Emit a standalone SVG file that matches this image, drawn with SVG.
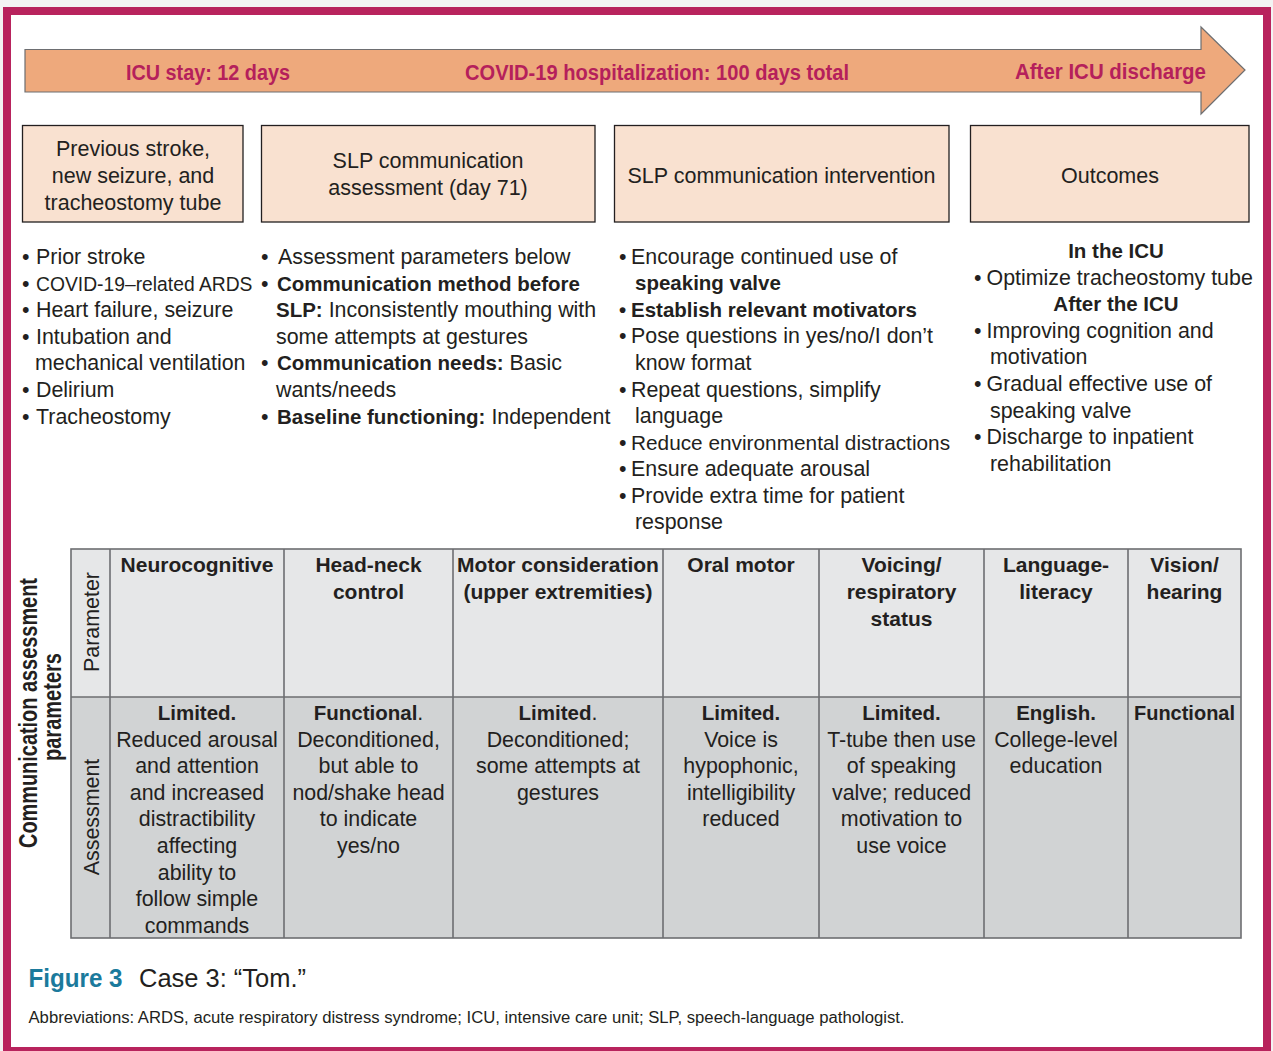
<svg xmlns="http://www.w3.org/2000/svg" width="1273" height="1051" viewBox="0 0 1273 1051">
<style>
.t{font-family:"Liberation Sans",Arial,sans-serif;fill:#231f20;}
.r{font-size:21.4px;}
.b{font-size:20.5px;font-weight:bold;}
.m{text-anchor:middle;}
.hd{font-size:21px;font-weight:bold;text-anchor:middle;}
.lab{font-family:"Liberation Sans",Arial,sans-serif;font-size:22px;font-weight:bold;fill:#b5205b;}
.box{fill:#f9e1d0;stroke:#231f20;stroke-width:1.3;}
.bx{font-size:21.5px;text-anchor:middle;}
.grid{stroke:#6d6e71;stroke-width:1.6;fill:none;}
</style>
<rect x="0" y="0" width="1273" height="1051" fill="#f3f3f3"/>
<g id="frame">
<rect x="7" y="11" width="1260" height="1040" fill="#ffffff" stroke="#b8235d" stroke-width="8"/>
</g>
<g id="timeline">
<polygon points="25,49.5 1201,49.5 1201,27 1245,70 1201,114 1201,92 25,92" fill="#eea97c" stroke="#6d6e71" stroke-width="1.2"/>
<text class="lab" x="126" y="80" textLength="164" lengthAdjust="spacingAndGlyphs">ICU stay: 12 days</text>
<text class="lab" x="465" y="80" textLength="384" lengthAdjust="spacingAndGlyphs">COVID-19 hospitalization: 100 days total</text>
<text class="lab" x="1015" y="79" textLength="191" lengthAdjust="spacingAndGlyphs">After ICU discharge</text>
</g>
<g id="node-history">
<rect class="box" x="22.5" y="125.5" width="220.5" height="96.5"/>
<text class="t bx" x="133" y="156">Previous stroke,</text>
<text class="t bx" x="133" y="183">new seizure, and</text>
<text class="t bx" x="133" y="210">tracheostomy tube</text>
</g>
<g id="node-assessment">
<rect class="box" x="261.5" y="125.5" width="333.5" height="96.5"/>
<text class="t bx" x="428" y="168">SLP communication</text>
<text class="t bx" x="428" y="195">assessment (day 71)</text>
</g>
<g id="node-intervention">
<rect class="box" x="614.5" y="125.5" width="334.5" height="96.5"/>
<text class="t bx" x="781.5" y="183">SLP communication intervention</text>
</g>
<g id="node-outcomes">
<rect class="box" x="970.5" y="125.5" width="278.5" height="96.5"/>
<text class="t bx" x="1110" y="183">Outcomes</text>
</g>
<g id="list-history" class="t r">
<text y="264"><tspan x="22">•</tspan><tspan x="36">Prior stroke</tspan></text>
<text y="290.6"><tspan x="22">•</tspan><tspan x="36" style="font-size:19.3px">COVID-19–related ARDS</tspan></text>
<text y="317.2"><tspan x="22">•</tspan><tspan x="36">Heart failure, seizure</tspan></text>
<text y="343.8"><tspan x="22">•</tspan><tspan x="36">Intubation and</tspan></text>
<text y="370.4"><tspan x="35">mechanical ventilation</tspan></text>
<text y="397"><tspan x="22">•</tspan><tspan x="36">Delirium</tspan></text>
<text y="423.6"><tspan x="22">•</tspan><tspan x="36">Tracheostomy</tspan></text>
</g>
<g id="list-assessment" class="t r">
<text y="264"><tspan x="261">•</tspan><tspan x="278">Assessment parameters below</tspan></text>
<text y="290.6"><tspan x="261">•</tspan><tspan x="277" class="b">Communication method before</tspan></text>
<text y="317.2"><tspan x="276" class="b">SLP:</tspan> Inconsistently mouthing with</text>
<text y="343.8" x="276">some attempts at gestures</text>
<text y="370.4"><tspan x="261">•</tspan><tspan x="277" class="b">Communication needs:</tspan> Basic</text>
<text y="397" x="276">wants/needs</text>
<text y="423.6"><tspan x="261">•</tspan><tspan x="277" class="b">Baseline functioning:</tspan> Independent</text>
</g>
<g id="list-intervention" class="t r">
<text y="263.5"><tspan x="619">•</tspan><tspan x="631">Encourage continued use of</tspan></text>
<text y="290" x="635" class="b">speaking valve</text>
<text y="316.7" class="b"><tspan x="619">•</tspan><tspan x="631">Establish relevant motivators</tspan></text>
<text y="343.3"><tspan x="619">•</tspan><tspan x="631">Pose questions in yes/no/I don’t</tspan></text>
<text y="370" x="635">know format</text>
<text y="396.5"><tspan x="619">•</tspan><tspan x="631">Repeat questions, simplify</tspan></text>
<text y="423" x="635">language</text>
<text y="449.6"><tspan x="619">•</tspan><tspan x="631" style="font-size:20.8px">Reduce environmental distractions</tspan></text>
<text y="476.2"><tspan x="619">•</tspan><tspan x="631">Ensure adequate arousal</tspan></text>
<text y="502.8"><tspan x="619">•</tspan><tspan x="631">Provide extra time for patient</tspan></text>
<text y="529.4" x="635">response</text>
</g>
<g id="list-outcomes" class="t r">
<text y="258" x="1116" class="b m">In the ICU</text>
<text y="284.6"><tspan x="974">•</tspan><tspan x="986.5">Optimize tracheostomy tube</tspan></text>
<text y="311.2" x="1116" class="b m">After the ICU</text>
<text y="337.8"><tspan x="974">•</tspan><tspan x="986.5">Improving cognition and</tspan></text>
<text y="364.4" x="990">motivation</text>
<text y="391"><tspan x="974">•</tspan><tspan x="986.5">Gradual effective use of</tspan></text>
<text y="417.6" x="990">speaking valve</text>
<text y="444.2"><tspan x="974">•</tspan><tspan x="986.5">Discharge to inpatient</tspan></text>
<text y="470.8" x="990">rehabilitation</text>
</g>
<g id="table">
<rect x="71" y="549" width="1170" height="148" fill="#e6e7e8"/>
<rect x="71" y="697" width="1170" height="241" fill="#d1d3d4"/>
<g class="grid">
<rect x="71" y="549" width="1170" height="389"/>
<line x1="71" y1="697" x2="1241" y2="697"/>
<line x1="110" y1="549" x2="110" y2="938"/>
<line x1="284" y1="549" x2="284" y2="938"/>
<line x1="453" y1="549" x2="453" y2="938"/>
<line x1="663" y1="549" x2="663" y2="938"/>
<line x1="819" y1="549" x2="819" y2="938"/>
<line x1="984" y1="549" x2="984" y2="938"/>
<line x1="1128" y1="549" x2="1128" y2="938"/>
</g>
<text class="t r m" transform="translate(99,622) rotate(-90)">Parameter</text>
<text class="t r m" transform="translate(99,817) rotate(-90)">Assessment</text>
<text class="t m" style="font-size:25px;font-weight:bold" transform="translate(37,713) rotate(-90)" textLength="270" lengthAdjust="spacingAndGlyphs">Communication assessment</text>
<text class="t m" style="font-size:25px;font-weight:bold" transform="translate(61,707) rotate(-90)" textLength="108" lengthAdjust="spacingAndGlyphs">parameters</text>
<g id="table-header" class="t hd">
<text x="197" y="572">Neurocognitive</text>
<text x="368.5" y="572">Head-neck</text>
<text x="368.5" y="599">control</text>
<text x="558" y="572">Motor consideration</text>
<text x="558" y="599">(upper extremities)</text>
<text x="741" y="572">Oral motor</text>
<text x="901.5" y="572">Voicing/</text>
<text x="901.5" y="599">respiratory</text>
<text x="901.5" y="625.6">status</text>
<text x="1056" y="572">Language-</text>
<text x="1056" y="599">literacy</text>
<text x="1184.5" y="572">Vision/</text>
<text x="1184.5" y="599">hearing</text>
</g>
<g id="table-body" class="t r m">
<text x="197" y="720" class="b">Limited.</text>
<text x="197" y="746.6">Reduced arousal</text>
<text x="197" y="773.2">and attention</text>
<text x="197" y="799.8">and increased</text>
<text x="197" y="826.4">distractibility</text>
<text x="197" y="853">affecting</text>
<text x="197" y="879.6">ability to</text>
<text x="197" y="906.2">follow simple</text>
<text x="197" y="932.8">commands</text>
<text x="368.5" y="720"><tspan class="b">Functional</tspan>.</text>
<text x="368.5" y="746.6">Deconditioned,</text>
<text x="368.5" y="773.2">but able to</text>
<text x="368.5" y="799.8">nod/shake head</text>
<text x="368.5" y="826.4">to indicate</text>
<text x="368.5" y="853">yes/no</text>
<text x="558" y="720"><tspan class="b">Limited</tspan>.</text>
<text x="558" y="746.6">Deconditioned;</text>
<text x="558" y="773.2">some attempts at</text>
<text x="558" y="799.8">gestures</text>
<text x="741" y="720" class="b">Limited.</text>
<text x="741" y="746.6">Voice is</text>
<text x="741" y="773.2">hypophonic,</text>
<text x="741" y="799.8">intelligibility</text>
<text x="741" y="826.4">reduced</text>
<text x="901.5" y="720" class="b">Limited.</text>
<text x="901.5" y="746.6">T-tube then use</text>
<text x="901.5" y="773.2">of speaking</text>
<text x="901.5" y="799.8">valve; reduced</text>
<text x="901.5" y="826.4">motivation to</text>
<text x="901.5" y="853">use voice</text>
<text x="1056" y="720" class="b">English.</text>
<text x="1056" y="746.6">College-level</text>
<text x="1056" y="773.2">education</text>
<text x="1184.5" y="720" class="b" textLength="101" lengthAdjust="spacingAndGlyphs">Functional</text>
</g>
</g>
<g id="caption">
<text x="28.5" y="987" style="font-family:'Liberation Sans',Arial,sans-serif;font-size:26.5px;font-weight:bold;fill:#1b7a9c" textLength="94" lengthAdjust="spacingAndGlyphs">Figure 3</text>
<text class="t" x="139" y="987" style="font-size:26.5px" textLength="167" lengthAdjust="spacingAndGlyphs">Case 3: “Tom.”</text>
<text class="t" x="28.5" y="1023" style="font-size:16px" textLength="876" lengthAdjust="spacingAndGlyphs">Abbreviations: ARDS, acute respiratory distress syndrome; ICU, intensive care unit; SLP, speech-language pathologist.</text>
</g>
</svg>
